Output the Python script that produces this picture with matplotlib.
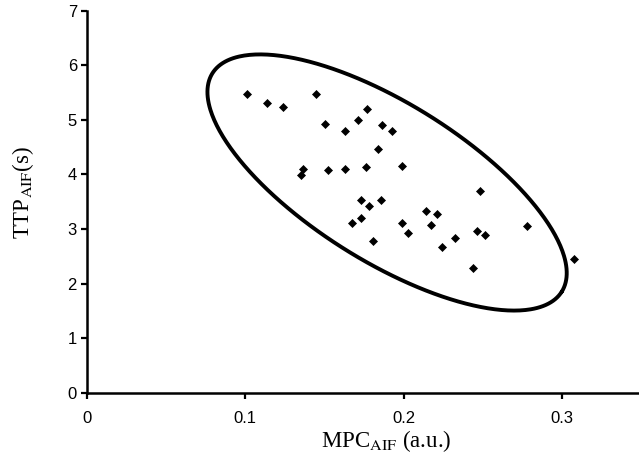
import numpy as np
import matplotlib
matplotlib.use("Agg")
import matplotlib.pyplot as plt

# Data
mpc = [0.1009, 0.1136, 0.1240, 0.1447, 0.1767, 0.1710, 0.1502, 0.1628, 0.1861,
       0.1924, 0.1838, 0.1367, 0.1354, 0.1521, 0.1630, 0.1760, 0.1991, 0.2481,
       0.1733, 0.1779, 0.1857, 0.1729, 0.1672, 0.2143, 0.2208, 0.1989, 0.2174,
       0.2027, 0.1808, 0.2464, 0.2511, 0.2326, 0.2244, 0.2780, 0.3076, 0.2437]
ttp = [5.47, 5.31, 5.23, 5.47, 5.20, 4.99, 4.92, 4.80, 4.90,
       4.80, 4.46, 4.10, 3.98, 4.07, 4.10, 4.13, 4.16, 3.70,
       3.53, 3.42, 3.53, 3.20, 3.10, 3.33, 3.28, 3.10, 3.07,
       2.92, 2.78, 2.97, 2.89, 2.83, 2.67, 3.06, 2.44, 2.29]

# Ellipse (hand-drawn cluster outline): centre in data units
ell_center = (0.1895, 3.85)

x_ticks = [0, 0.1, 0.2, 0.3]
x_ticklabels = ["0", "0.1", "0.2", "0.3"]
y_ticks = [0, 1, 2, 3, 4, 5, 6, 7]

plt.rcParams['mathtext.fontset'] = 'stix'

fig = plt.figure(figsize=(6.39, 4.61), dpi=100)
ax = fig.add_axes([86.7/639, (461-392.7)/461, (641.5-86.7)/639, (392.7-10.5)/461])
ax.set_xlim(0, 0.35)
ax.set_ylim(0, 7)

# ellipse geometry in pixel space, converted via axis scales
x_scale = (641.5-86.7)/0.35   # px per data unit
y_scale = (392.7-10.5)/7.0
a_px, b_px, theta = 206, 79, np.deg2rad(32)
t = np.linspace(0, 2*np.pi, 400)
u = a_px*np.cos(t)
v = b_px*np.sin(t)
dx = u*np.cos(theta) + v*np.sin(theta)
dy = -u*np.sin(theta) + v*np.cos(theta)
ax.plot(ell_center[0] + dx/x_scale, ell_center[1] + dy/y_scale,
        color='black', lw=2.8, solid_capstyle='round')

ax.plot(mpc, ttp, linestyle='none', marker='D', ms=4.2, color='black', mew=0.5)

for s in ['top', 'right']:
    ax.spines[s].set_visible(False)
for s in ['left', 'bottom']:
    ax.spines[s].set_linewidth(1.8)

ax.set_xticks(x_ticks)
ax.set_xticklabels(x_ticklabels)
ax.set_yticks(y_ticks)
ax.tick_params(axis='both', direction='out', length=4.5, width=1.6,
               labelsize=12, labelfontfamily='Liberation Sans')
ax.tick_params(axis='x', pad=8.5)
ax.tick_params(axis='y', pad=2.5)

ax.set_xlabel(r'MPC$_{\mathrm{AIF}}$ (a.u.)', fontsize=16.5, family='Liberation Serif')
ax.set_ylabel(r'TTP$_{\mathrm{AIF}}$(s)', fontsize=16.5, family='Liberation Serif')
ax.xaxis.set_label_coords(0.54, -0.093)
ax.yaxis.set_label_coords(-0.092, 0.525)

fig.savefig('out.png', dpi=100)
